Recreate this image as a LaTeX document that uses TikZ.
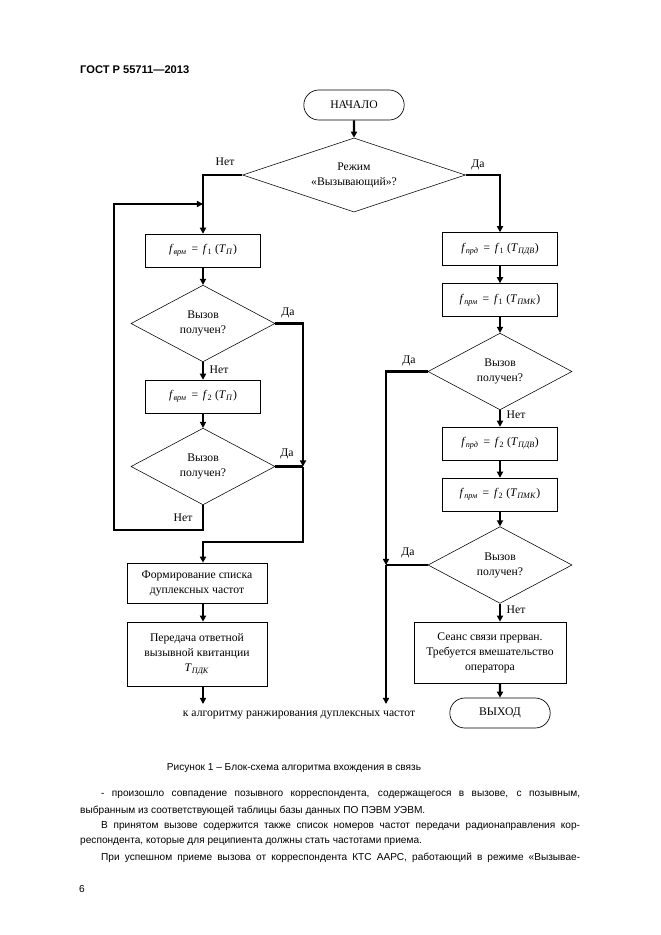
\documentclass[tikz,border=0pt]{standalone}
\usepackage{fontspec}
\setmainfont{Liberation Serif}
\newfontfamily\arialfont{Liberation Sans}
\usetikzlibrary{shapes.geometric,shapes.misc,arrows.meta}

\newcommand{\fq}[2]{\textit{f}\textsubscript{\textit{#1}}\ \,=\ \,\textit{f}\textsubscript{#2}}
\newcommand{\tb}[1]{\textit{T}\textsubscript{\textit{#1}}}

\tikzset{
  flow/.style={line width=2pt, -{Triangle[length=5.5pt,width=5.5pt]}},
  link/.style={line width=2pt},
  txt/.style={font=\fontsize{10.5}{13.5}\selectfont},
  box/.style={txt, draw, line width=0.6pt, inner sep=1pt, align=center,
    minimum width=104pt, minimum height=29.5pt},
  query/.style={txt, draw, diamond, aspect=1.9, line width=0.5pt, inner sep=0pt, align=center,
    minimum width=129.6pt, minimum height=69pt},
  term/.style={txt, draw, rounded rectangle, line width=0.6pt,
    minimum width=97pt, minimum height=27pt},
  lbl/.style={txt, inner sep=0pt},
  body/.style={font=\arialfont\fontsize{9.1}{12}\selectfont, inner sep=0pt, anchor=west}
}

\begin{document}
\begin{tikzpicture}[x=0.9pt, y=-0.9pt]
  \fill[white] (0,0) rectangle (661,935);
  \useasboundingbox (0,0) rectangle (661,935);

  % page head
  \node[body, font=\arialfont\bfseries\fontsize{10}{12}\selectfont] (head) at (80,70) {ГОСТ Р 55711—2013};

  % start and mode choice
  \node[term] (start) at (354,105) {НАЧАЛО};
  \node[query, aspect=3, minimum width=200.7pt, minimum height=66.6pt] (mode) at (354,175) {Режим\\«Вызывающий»?};

  % left column
  \coordinate (lcol) at (203,0);
  \node[box] (lf1) at (203,250.5) {\fq{врм}{1} (\tb{П})};
  \node[query] (lq1) at (203,323.5) {Вызов\\получен?};
  \node[box] (lf2) at (203,396.5) {\fq{врм}{2} (\tb{П})};
  \node[query] (lq2) at (203,466.5) {Вызов\\получен?};
  \node[box, minimum width=126pt, minimum height=36pt] (list) at (197,583) {Формирование списка\\дуплексных частот};
  \node[box, minimum width=126pt, minimum height=57.6pt] (ack) at (197,654) {Передача ответной\\вызывной квитанции\\\tb{ПДК}};
  \coordinate (toRank) at (203,704);
  \node[lbl] (rank) at (299,715) {к алгоритму ранжирования дуплексных частот};

  % right column
  \node[box] (rf1) at (500,249) {\fq{прд}{1} (\tb{ПДВ})};
  \node[box] (rf2) at (500,300) {\fq{прм}{1} (\tb{ПМК})};
  \node[query] (rq1) at (500,371.5) {Вызов\\получен?};
  \node[box] (rf3) at (500,443.5) {\fq{прд}{2} (\tb{ПДВ})};
  \node[box] (rf4) at (500,494.5) {\fq{прм}{2} (\tb{ПМК})};
  \node[query] (rq2) at (500,565) {Вызов\\получен?};
  \node[box, minimum width=136.8pt, minimum height=54.9pt] (lost) at (490,652.5) {Сеанс связи прерван.\\Требуется вмешательство\\оператора};
  \node[term] (exit) at (500,713) {ВЫХОД};

  % junctions
  \coordinate (ljoin) at (303,466.5);
  \coordinate (lbus) at (303,542);
  \coordinate (loopbl) at (114,530);
  \coordinate (loopin) at (203,204);
  \coordinate (rjoin) at (386,565);
  \coordinate (rend) at (386,704);

  % connectors
  \draw[flow] (start) -- (mode);
  \draw[flow] (mode.west) -| (lf1.north);
  \draw[flow] (mode.east) -| (rf1.north);
  \draw[flow] (lf1) -- (lq1);
  \draw[flow] (lq1) -- (lf2);
  \draw[flow] (lf2) -- (lq2);
  \draw[flow] (lq1.east) -| (ljoin);
  \draw[link] (lq2.east) -- (ljoin);
  \draw[flow] (ljoin) -- (lbus) -- (lbus -| lcol) -- (list.north -| lcol);
  \draw[flow] (lq2.south) |- (loopbl) |- (loopin);
  \draw[flow] (list.south -| lcol) -- (ack.north -| lcol);
  \draw[flow] (ack.south -| lcol) -- (toRank);
  \draw[flow] (rf1) -- (rf2);
  \draw[flow] (rf2) -- (rq1);
  \draw[flow] (rq1) -- (rf3);
  \draw[flow] (rf3) -- (rf4);
  \draw[flow] (rf4) -- (rq2);
  \draw[flow] (rq2.south) -- (lost.north -| rq2);
  \draw[flow] (lost.south -| exit) -- (exit);
  \draw[flow] (rq1.west) -| (rjoin);
  \draw[link] (rq2.west) -- (rjoin);
  \draw[flow] (rjoin) -- (rend);

  % branch labels
  \node[lbl] (m-no) at (225,162) {Нет};
  \node[lbl] (m-yes) at (478,165) {Да};
  \node[lbl] (l1-yes) at (288,313) {Да};
  \node[lbl] (l1-no) at (219,370) {Нет};
  \node[lbl] (l2-yes) at (287,454) {Да};
  \node[lbl] (l2-no) at (183,518) {Нет};
  \node[lbl] (r1-yes) at (409,361) {Да};
  \node[lbl] (r1-no) at (516,415) {Нет};
  \node[lbl] (r2-yes) at (408,553) {Да};
  \node[lbl] (r2-no) at (516,610) {Нет};

  % caption and text
  \node[body, anchor=center] (caption) at (294,768) {Рисунок 1 – Блок-схема алгоритма вхождения в связь};
  \node[body] (p1) at (101,795) {\makebox[431pt][s]{- произошло совпадение позывного корреспондента, содержащегося в вызове, с позывным,}};
  \node[body] (p2) at (80,810.5) {выбранным из соответствующей таблицы базы данных ПО ПЭВМ УЭВМ.};
  \node[body] (p3) at (101,826) {\makebox[431pt][s]{В принятом вызове содержится также список номеров частот передачи радионаправления кор-}};
  \node[body] (p4) at (80,841.5) {респондента, которые для реципиента должны стать частотами приема.};
  \node[body] (p5) at (101,858) {\makebox[431pt][s]{При успешном приеме вызова от корреспондента КТС ААРС, работающий в режиме «Вызывае-}};
  \node[body] (pnum) at (79,889) {6};
\end{tikzpicture}
\end{document}
